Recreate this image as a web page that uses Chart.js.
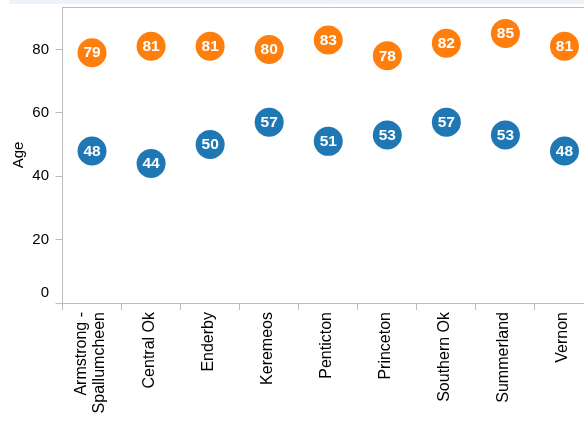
<!DOCTYPE html>
<html lang="en">
<head>
    <meta charset="UTF-8" />
    <title>Age by Region</title>
    <style>
        body {
            margin: 0;
            padding: 0;
            background-color: #fff;
            overflow: hidden;
            font-family: "Liberation Sans", Arial, sans-serif;
        }
        .top-band {
            position: absolute;
            top: 0;
            left: 9px;
            right: 0;
            height: 4px;
            background-color: #eef2fa;
        }
        .chart-box {
            position: absolute;
            top: 0;
            left: 0;
            width: 600px;
            height: 430px;
        }
    </style>
    <script src="https://cdn.jsdelivr.net/npm/chart.js"></script>
</head>
<body>
    <div class="top-band"></div>
    <div class="chart-box">
        <canvas id="chart" width="600" height="430"></canvas>
    </div>
    <script>
        // Data
        const regions = [
            ["Armstrong -", "Spallumcheen"],
            "Central Ok",
            "Enderby",
            "Keremeos",
            "Penticton",
            "Princeton",
            "Southern Ok",
            "Summerland",
            "Vernon",
        ];
        const lowAges = [48, 44, 50, 57, 51, 53, 57, 53, 48];
        const highAges = [79, 81, 81, 80, 83, 78, 82, 85, 81];
        const yTicks = [0, 20, 40, 60, 80];

        const axisColor = "#bdbdbd";
        const font = '"Liberation Sans", Arial, sans-serif';

        // Axis labels, top frame line and the numbers inside the dots
        const decorations = {
            id: "decorations",
            afterDatasetsDraw(chart) {
                const ctx = chart.ctx;
                ctx.save();
                ctx.fillStyle = "#fff";
                ctx.font = "bold 15.5px " + font;
                ctx.textAlign = "center";
                ctx.textBaseline = "middle";
                chart.data.datasets.forEach((ds, i) => {
                    chart.getDatasetMeta(i).data.forEach((pt, j) => {
                        ctx.fillText(String(ds.data[j]), pt.x, pt.y + 0.5);
                    });
                });
                ctx.restore();
            },
            afterDraw(chart) {
                const ctx = chart.ctx;
                const area = chart.chartArea;
                const x = chart.scales.x;
                const y = chart.scales.y;
                ctx.save();

                // top frame line
                ctx.strokeStyle = axisColor;
                ctx.lineWidth = 1;
                ctx.beginPath();
                ctx.moveTo(Math.round(area.left) - 0.5, Math.round(area.top) + 0.5);
                ctx.lineTo(area.right, Math.round(area.top) + 0.5);
                ctx.stroke();

                // y tick labels
                ctx.fillStyle = "#000";
                ctx.font = "15px " + font;
                ctx.textAlign = "right";
                yTicks.forEach((v) => {
                    const py = y.getPixelForValue(v);
                    if (v === 0) {
                        ctx.textBaseline = "alphabetic";
                        ctx.fillText(String(v), area.left - 13.5, py - 6);
                    } else {
                        ctx.textBaseline = "middle";
                        ctx.fillText(String(v), area.left - 13.5, py);
                    }
                });

                // y title
                ctx.save();
                ctx.translate(23, (area.top + area.bottom) / 2);
                ctx.rotate(-Math.PI / 2);
                ctx.textAlign = "center";
                ctx.textBaseline = "alphabetic";
                ctx.fillText("Age", 0, 0);
                ctx.restore();

                // x labels, rotated
                ctx.font = "16px " + font;
                regions.forEach((label, i) => {
                    const lines = Array.isArray(label) ? label : [label];
                    const px = x.getPixelForValue(i);
                    lines.forEach((line, k) => {
                        const off = (k - (lines.length - 1) / 2) * 17.6;
                        ctx.save();
                        ctx.translate(px + 3 + off, area.bottom + 9);
                        ctx.rotate(-Math.PI / 2);
                        ctx.textAlign = "right";
                        ctx.textBaseline = "alphabetic";
                        ctx.fillText(line, 0, 0);
                        ctx.restore();
                    });
                });
                ctx.restore();
            },
        };

        new Chart(document.getElementById("chart"), {
            type: "line",
            data: {
                labels: regions,
                datasets: [
                    {
                        label: "Low",
                        data: lowAges,
                        showLine: false,
                        pointRadius: 14.5,
                        pointHoverRadius: 14.5,
                        pointBorderWidth: 0,
                        pointBackgroundColor: "#1f77b4",
                    },
                    {
                        label: "High",
                        data: highAges,
                        showLine: false,
                        pointRadius: 14.5,
                        pointHoverRadius: 14.5,
                        pointBorderWidth: 0,
                        pointBackgroundColor: "#ff7f0e",
                    },
                ],
            },
            options: {
                responsive: false,
                animation: false,
                layout: {
                    autoPadding: false,
                    padding: { top: 7, right: 6, left: 0, bottom: 0 },
                },
                plugins: {
                    legend: { display: false },
                    tooltip: { enabled: false },
                },
                scales: {
                    x: {
                        type: "category",
                        offset: true,
                        ticks: { display: false },
                        grid: {
                            offset: true,
                            drawOnChartArea: false,
                            drawTicks: true,
                            tickLength: 7,
                            color: axisColor,
                        },
                        border: { display: true, color: axisColor },
                        afterFit: (s) => {
                            s.height = 127;
                        },
                    },
                    y: {
                        min: 0,
                        max: 93.4,
                        ticks: {
                            display: false,
                            stepSize: 20,
                            includeBounds: false,
                        },
                        grid: {
                            drawOnChartArea: false,
                            drawTicks: true,
                            tickLength: 7,
                            color: axisColor,
                        },
                        border: { display: true, color: axisColor },
                        afterFit: (s) => {
                            s.width = 62.5;
                        },
                    },
                },
            },
            plugins: [decorations],
        });
    </script>
</body>
</html>
